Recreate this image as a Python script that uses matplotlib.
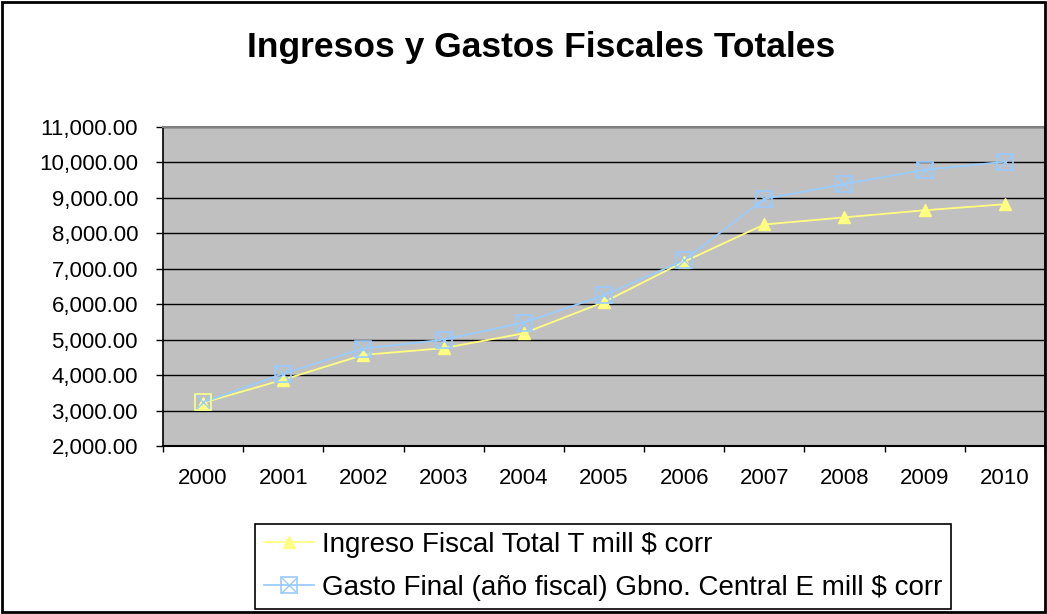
import matplotlib
matplotlib.use("Agg")
import matplotlib.pyplot as plt
from matplotlib.lines import Line2D
from matplotlib.patches import Rectangle
from matplotlib.ticker import FuncFormatter

plt.rcParams['font.family'] = ['Liberation Sans', 'DejaVu Sans']

years = [2000, 2001, 2002, 2003, 2004, 2005, 2006, 2007, 2008, 2009, 2010]
ingreso = [3220, 3870, 4570, 4760, 5180, 6060, 7200, 8250, 8450, 8650, 8820]
gasto = [3230, 4040, 4750, 5000, 5480, 6250, 7240, 8970, 9390, 9790, 10020]
y_ticks = [2000, 3000, 4000, 5000, 6000, 7000, 8000, 9000, 10000, 11000]

label_ingreso = "Ingreso Fiscal Total T mill $ corr"
label_gasto = "Gasto Final (año fiscal) Gbno. Central E mill $ corr"
title = "Ingresos y Gastos Fiscales Totales"

yellow = '#FFFF80'
blue = '#99CCFF'

fig = plt.figure(figsize=(10.47, 6.14), dpi=100)
ax = fig.add_axes([0.1557, 0.2736, 0.8423, 0.5196])
ax.set_facecolor('#C0C0C0')

# lineas
ax.plot(years, ingreso, color=yellow, lw=1.3, zorder=3)
ax.plot(years, gasto, color=blue, lw=1.3, zorder=4)
ax.plot(years, ingreso, ls='none', marker='^', ms=9, color=yellow, mec=yellow, zorder=5)
ax.plot(years, gasto, ls='none', marker='s', ms=11.5, mfc='none', mec=blue, mew=1.2, zorder=6)
ax.plot(years, gasto, ls='none', marker='x', ms=11.5, color=blue, mew=1.0, zorder=6)
# primer punto: cuadro amarillo como en el original
ax.plot(years[:1], gasto[:1], ls='none', marker='s', ms=11.5, mfc='none', mec=yellow, mew=1.2, zorder=7)

ax.set_xlim(years[0] - 0.5, years[-1] + 0.5)
ax.set_ylim(y_ticks[0], y_ticks[-1])
ax.set_yticks(y_ticks)
ax.yaxis.set_major_formatter(FuncFormatter(lambda v, p: f"{v:,.2f}"))
ax.yaxis.grid(True, color='black', lw=1.0)
ax.set_axisbelow(True)

# ticks x entre categorias, etiquetas centradas
ax.set_xticks([y - 0.5 for y in years] + [years[-1] + 0.5])
ax.set_xticklabels([])
ax.set_xticks(years, minor=True)
ax.set_xticklabels([str(y) for y in years], minor=True)
ax.tick_params(axis='x', which='major', length=4.5, width=1.0, direction='out')
ax.tick_params(axis='x', which='minor', length=0, pad=16, labelsize=16)
ax.tick_params(axis='y', length=5, width=1.0, direction='out', pad=13, labelsize=16)

for s in ['top', 'right']:
    ax.spines[s].set_color('#808080')
    ax.spines[s].set_linewidth(1.5)
ax.spines['left'].set_color('black')
ax.spines['left'].set_linewidth(1.2)
ax.spines['bottom'].set_color('black')
ax.spines['bottom'].set_linewidth(1.5)

fig.text(0.517, 0.922, title, ha='center', va='center', fontsize=25.5, fontweight='bold')

h1 = Line2D([], [], color=yellow, lw=1.3, marker='^', ms=9, mec=yellow)
h2a = Line2D([], [], color=blue, lw=1.3, marker='s', ms=11.5, mfc='none', mec=blue, mew=1.2)
h2b = Line2D([], [], ls='none', marker='x', ms=11.5, color=blue, mew=1.0)
leg = fig.legend([h1, (h2a, h2b)], [label_ingreso, label_gasto],
                 loc='center', bbox_to_anchor=(0.576, 0.0773), fontsize=20,
                 frameon=True, fancybox=False, edgecolor='black', framealpha=1,
                 handlelength=1.8, handletextpad=0.3, borderpad=0.3, labelspacing=0.6)
leg.get_frame().set_linewidth(1.2)

fig.patches.append(Rectangle((0.0015, 0.0025), 0.997, 0.995, transform=fig.transFigure,
                             fill=False, edgecolor='black', lw=2))

fig.savefig('out.png', dpi=100)
